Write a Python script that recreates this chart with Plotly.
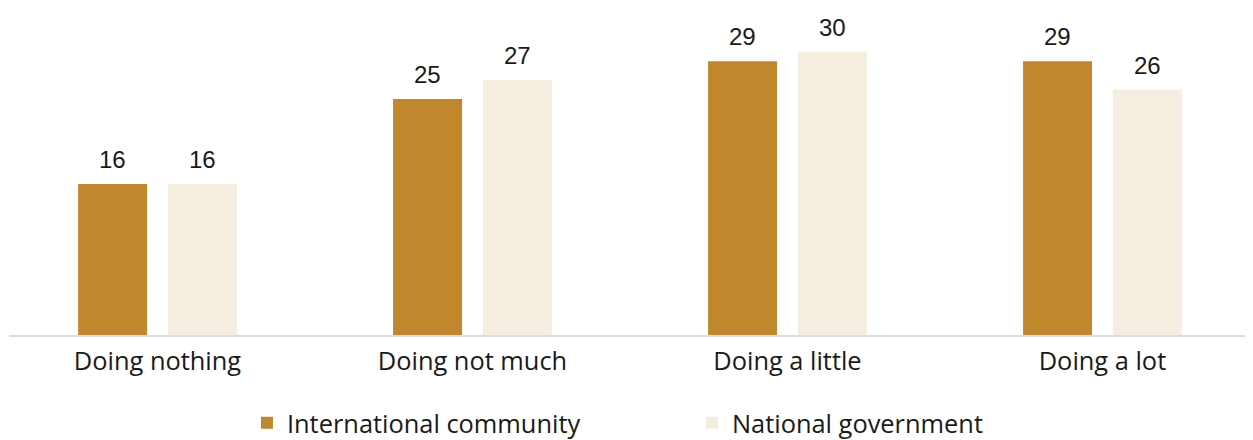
import plotly.graph_objects as go

categories = ["Doing nothing", "Doing not much", "Doing a little", "Doing a lot"]
international = [16, 25, 29, 29]
national = [16, 27, 30, 26]
series_names = ["International community", "National government"]
colors = ["#C0872C", "#F5EDDF"]

FONT = "Open Sans"
LABEL_FONT = "Liberation Sans"
fig = go.Figure()
offsets = [-0.252, 0.033]
width = 0.219
for name, vals, col, off in zip(series_names, [international, national], colors, offsets):
    fig.add_trace(go.Bar(
        x=categories, y=vals, name=name, marker=dict(color=col, line=dict(width=0)),
        width=width, offset=off,
    ))

shifts = [-45, 45]
for vals, xs in zip([international, national], shifts):
    for c, v in zip(categories, vals):
        fig.add_annotation(x=c, y=v, text=str(v), showarrow=False, xshift=xs,
                           yanchor="bottom", yshift=9,
                           font=dict(family=LABEL_FONT, size=24, color="#1a1a1a"))

fig.update_layout(
    width=1245, height=432,
    margin=dict(l=1, r=0, t=6, b=105, autoexpand=False),
    paper_bgcolor="white", plot_bgcolor="white",
    barmode="overlay",
    font=dict(family=FONT, size=25.4, color="#1a1a1a"),
    xaxis=dict(range=[-0.4714, 3.478], showline=True, linecolor="#D9DDE4", linewidth=2,
               ticks="", showgrid=False, tickfont=dict(size=25.4, color="#1a1a1a"),
               ticklabelstandoff=3, automargin=False),
    yaxis=dict(range=[0, 34], visible=False, showgrid=False, zeroline=False, automargin=False),
    legend=dict(orientation="h", x=0.549, xanchor="center", yref="container", y=0.039,
                yanchor="middle", font=dict(size=25.4, color="#1a1a1a"),
                entrywidth=400, itemwidth=30),
    showlegend=True,
)
fig.write_html("out.html")
